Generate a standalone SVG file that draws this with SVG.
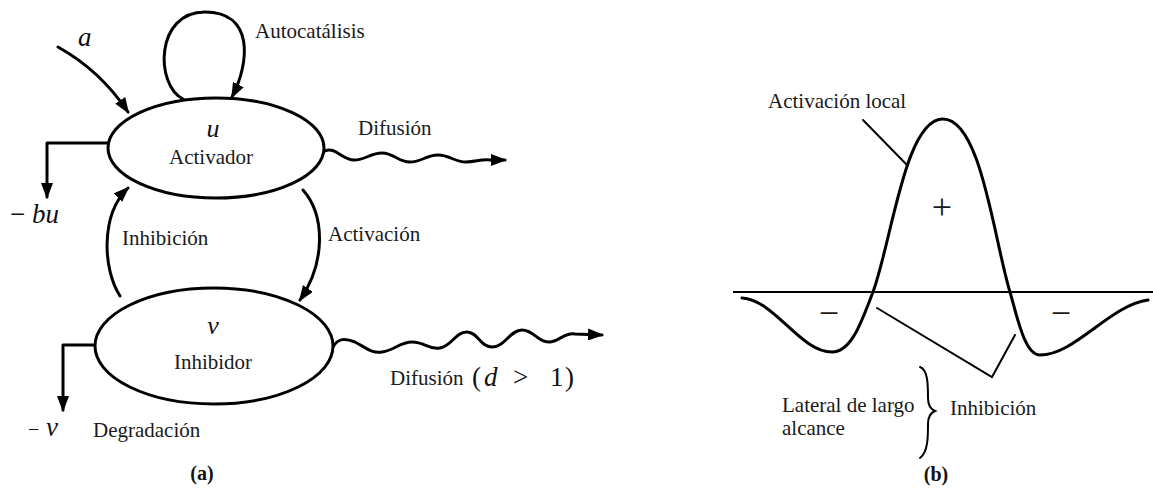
<svg xmlns="http://www.w3.org/2000/svg" width="1153" height="489" viewBox="0 0 1153 489">
<style>
text{font-family:"Liberation Serif","DejaVu Serif",serif}
.t{font-size:21px;fill:#1a1a1a}
.m{font-style:italic;font-size:27px;fill:#111}
.b{font-weight:bold;font-size:20px;fill:#111}
.s{fill:none;stroke:#000;stroke-width:3;stroke-linecap:round;stroke-linejoin:round}
.l{fill:none;stroke:#000;stroke-width:2;stroke-linecap:round}
.n{fill:#fff;stroke:#000;stroke-width:3}
.big{font-size:36px}
</style>
<defs>
<marker id="ah" markerUnits="userSpaceOnUse" markerWidth="16" markerHeight="12" refX="14" refY="6" orient="auto">
<path d="M0,0 L16,6 L0,12 z" fill="#000"/>
</marker>
</defs>
<rect width="1153" height="489" fill="#fff"/>

<g id="connectors">
<path class="s" d="M183,99 C155,85 155,12 205,12 C254,12 250,62 232,97" marker-end="url(#ah)"/>
<path class="s" d="M58,47 C85,62 110,85 128,112" marker-end="url(#ah)"/>
<path class="s" d="M108,143 L47,143 L47,197" marker-end="url(#ah)"/>
<path class="s" d="M120,296 C103,270 100,215 128,188" marker-end="url(#ah)"/>
<path class="s" d="M303,190 C325,215 326,262 300,300" marker-end="url(#ah)"/>
<path class="s" d="M325,151 C335,146 342,160 354,160 C366,160 370,153 382,153 C394,153 398,162 410,162 C422,162 426,155 438,155 C450,155 454,162 466,162 C476,162 480,159 490,160 L505,160" marker-end="url(#ah)"/>
<path class="s" d="M333,347 C338,338 345,338 355,342 C365,347 372,354 382,352 C395,350 400,342 412,342 C425,342 428,350 440,348 C452,346 455,332 467,332 C478,332 480,347 492,347 C505,347 510,330 522,330 C534,330 538,343 550,342 C560,341 565,332 575,334 L602,335" marker-end="url(#ah)"/>
<path class="s" d="M95,345 L63,345 L63,410" marker-end="url(#ah)"/>
</g>

<g id="activador">
<ellipse class="n" cx="216" cy="148" rx="108" ry="50"/>
<text class="m" x="213" y="137" text-anchor="middle" style="font-size:26px">u</text>
<text class="t" x="211" y="164" text-anchor="middle">Activador</text>
</g>

<g id="inhibidor">
<ellipse class="n" cx="214" cy="346" rx="119" ry="58"/>
<text class="m" x="213" y="334" text-anchor="middle" style="font-size:26px">v</text>
<text class="t" x="213" y="369" text-anchor="middle">Inhibidor</text>
</g>

<g id="labels-a">
<text class="t" x="255" y="38">Autocatálisis</text>
<text class="m" x="78" y="46">a</text>
<text class="m" x="10" y="223"><tspan style="font-style:normal">−</tspan> bu</text>
<text class="t" x="122" y="245">Inhibición</text>
<text class="t" x="328" y="241">Activación</text>
<text class="t" x="358" y="135">Difusión</text>
<text class="t" x="390" y="385">Difusión</text>
<text class="m" x="472" y="386"><tspan style="font-style:normal">(</tspan><tspan x="484">d</tspan><tspan x="513" style="font-style:normal">&gt;</tspan><tspan x="550" style="font-style:normal">1</tspan><tspan x="565" style="font-style:normal">)</tspan></text>
<text class="m" x="28" y="436"><tspan style="font-style:normal;font-size:20px">−</tspan> v</text>
<text class="t" x="93" y="437">Degradación</text>
<text class="b" x="202" y="480" text-anchor="middle">(a)</text>
</g>

<g id="graph-b">
<line x1="733" y1="292" x2="1153" y2="292" stroke="#000" stroke-width="2"/>
<path class="s" d="M742,298 C775,300 800,352 832,352 C852,352 862,320 873,292 C892,240 905,119 943,119 C981,119 994,240 1010,292 C1018,320 1025,355 1040,355 C1075,355 1110,305 1148,300"/>
<line class="l" x1="863" y1="120" x2="907" y2="165"/>
<polyline class="l" points="877,308 992,377 1015,335" stroke-linejoin="miter"/>
<path class="l" d="M920,367 C928,370 928,385 928,398 C928,405 930,409 935,411 C930,413 928,417 928,424 C928,437 928,452 920,458"/>
<text class="t" x="768" y="108">Activación local</text>
<text class="t big" x="942" y="219" text-anchor="middle">+</text>
<text class="t big" x="829" y="325" text-anchor="middle">−</text>
<text class="t big" x="1061" y="325" text-anchor="middle">−</text>
<text class="t" x="782" y="412">Lateral de largo</text>
<text class="t" x="782" y="435">alcance</text>
<text class="t" x="950" y="415">Inhibición</text>
<text class="b" x="936" y="481" text-anchor="middle">(b)</text>
</g>
</svg>
